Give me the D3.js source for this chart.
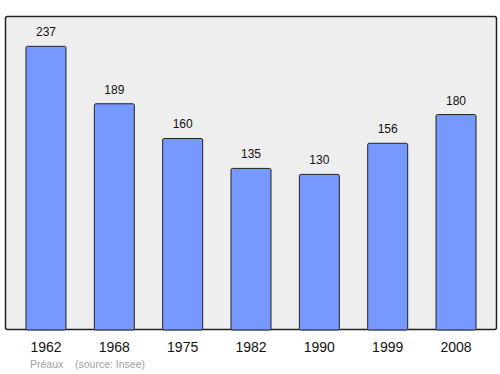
<!DOCTYPE html>
<html>
<head>
  <style>
    body { margin: 0; background: #fff; }
    text { font-family: "Liberation Sans", Arial, sans-serif; }
  </style>
  <script src="https://cdn.jsdelivr.net/npm/d3@7"></script>
</head>
<body>
  <div id="chart"></div>
  <script>
    // data
    const years = ["1962", "1968", "1975", "1982", "1990", "1999", "2008"];
    const population = [237, 189, 160, 135, 130, 156, 180];

    const width = 500, height = 374;
    const frame = { left: 5, top: 16, right: 497, bottom: 330 };

    const svg = d3.select("#chart").append("svg")
        .attr("width", width)
        .attr("height", height);

    // plot background
    svg.append("rect")
        .attr("x", frame.left + 0.5)
        .attr("y", frame.top + 0.5)
        .attr("width", frame.right - frame.left - 1)
        .attr("height", frame.bottom - frame.top - 1)
        .attr("rx", 2)
        .attr("fill", "#eeeeee")
        .attr("stroke", "#222")
        .attr("stroke-width", 1.5);

    const x = d3.scaleBand()
        .domain(years)
        .range([11.8, 490.2])
        .paddingInner(0.415)
        .paddingOuter(0.2075);

    const y = d3.scaleLinear()
        .domain([0, 261.5])
        .range([frame.bottom, frame.top + 1]);

    const data = years.map((yr, i) => ({ year: yr, value: population[i] }));

    svg.selectAll(".bar")
        .data(data)
        .enter().append("rect")
        .attr("class", "bar")
        .attr("x", d => x(d.year))
        .attr("y", d => y(d.value))
        .attr("width", x.bandwidth())
        .attr("height", d => frame.bottom - y(d.value))
        .attr("rx", 1.5)
        .attr("fill", "#7799ff")
        .attr("stroke", "#222")
        .attr("stroke-width", 1);

    // value labels
    svg.selectAll(".val")
        .data(data)
        .enter().append("text")
        .attr("class", "val")
        .attr("x", d => x(d.year) + x.bandwidth() / 2)
        .attr("y", d => y(d.value) - 10)
        .attr("text-anchor", "middle")
        .attr("font-size", 12)
        .attr("fill", "#111")
        .text(d => d.value);

    // x axis labels
    svg.append("g")
        .attr("transform", `translate(0,${frame.bottom})`)
        .call(d3.axisBottom(x).tickSize(0).tickPadding(12))
        .call(g => g.select(".domain").remove())
        .selectAll("text")
        .attr("font-size", 14)
        .attr("font-family", "Liberation Sans, Arial, sans-serif")
        .attr("fill", "#111");

    // footer
    svg.append("text")
        .attr("x", 30)
        .attr("y", 368)
        .attr("font-size", 10.5)
        .attr("fill", "#a0a0a0")
        .text("Préaux");
    svg.append("text")
        .attr("x", 75)
        .attr("y", 368)
        .attr("font-size", 10.5)
        .attr("fill", "#a0a0a0")
        .text("(source: Insee)");
  </script>
</body>
</html>
